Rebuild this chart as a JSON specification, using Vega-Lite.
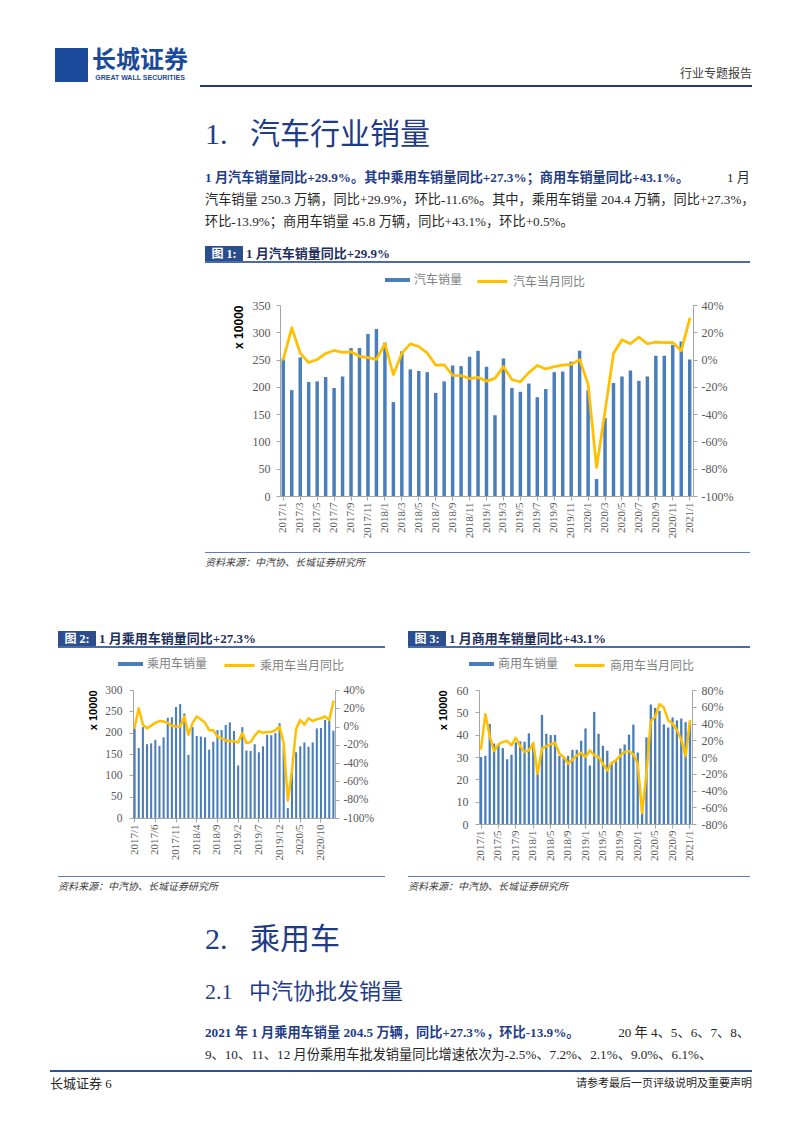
{
"$schema": "https://vega.github.io/schema/vega-lite/v6.json",
"background": "white",
"padding": {"left": 50, "top": 48, "right": 10, "bottom": 10},
"spacing": 0,
"resolve": {"scale": {"fill": "independent", "stroke": "independent"}, "legend": {"fill": "independent", "stroke": "independent"}},
"config": {
 "view": {"stroke": null},
 "axis": {"grid": false, "labelFont": "Liberation Serif", "labelFontSize": 12, "labelColor": "#595959", "domainColor": "#A6A6A6", "tickColor": "#A6A6A6", "tickSize": 4, "titleFont": "Liberation Sans", "titleFontWeight": "bold", "titleColor": "#000000"},
 "legend": {"padding": 0, "title": null, "labelFont": "Noto Sans CJK SC", "labelFontSize": 12, "labelColor": "#7F7F7F", "labelOffset": 4, "direction": "horizontal"}
},
"datasets": {
 "total": [
  {"m":"2017/1","v":252,"y":0.2},{"m":"2017/2","v":194,"y":23.3},{"m":"2017/3","v":254,"y":4.7},{"m":"2017/4","v":209,"y":-2.2},{"m":"2017/5","v":210,"y":0.0},{"m":"2017/6","v":218,"y":4.5},{"m":"2017/7","v":198,"y":6.7},{"m":"2017/8","v":219,"y":5.3},{"m":"2017/9","v":271,"y":5.7},{"m":"2017/10","v":271,"y":2.4},{"m":"2017/11","v":297,"y":1.4},{"m":"2017/12","v":306,"y":0.1},
  {"m":"2018/1","v":281,"y":11.6},{"m":"2018/2","v":172,"y":-11.1},{"m":"2018/3","v":265,"y":4.7},{"m":"2018/4","v":232,"y":11.5},{"m":"2018/5","v":229,"y":9.6},{"m":"2018/6","v":227,"y":4.8},{"m":"2018/7","v":189,"y":-4.0},{"m":"2018/8","v":210,"y":-3.8},{"m":"2018/9","v":239,"y":-11.6},{"m":"2018/10","v":238,"y":-11.7},{"m":"2018/11","v":255,"y":-13.9},{"m":"2018/12","v":266,"y":-13.0},
  {"m":"2019/1","v":237,"y":-15.8},{"m":"2019/2","v":148,"y":-13.8},{"m":"2019/3","v":252,"y":-5.2},{"m":"2019/4","v":198,"y":-14.6},{"m":"2019/5","v":191,"y":-16.4},{"m":"2019/6","v":206,"y":-9.6},{"m":"2019/7","v":181,"y":-4.3},{"m":"2019/8","v":196,"y":-6.9},{"m":"2019/9","v":227,"y":-5.2},{"m":"2019/10","v":228,"y":-4.0},{"m":"2019/11","v":246,"y":-3.6},{"m":"2019/12","v":266,"y":0.0},
  {"m":"2020/1","v":194,"y":-18.0},{"m":"2020/2","v":31,"y":-79.1},{"m":"2020/3","v":143,"y":-38},{"m":"2020/4","v":207,"y":4.4},{"m":"2020/5","v":219,"y":14.5},{"m":"2020/6","v":230,"y":11.6},{"m":"2020/7","v":211,"y":16.4},{"m":"2020/8","v":219,"y":11.6},{"m":"2020/9","v":257,"y":12.8},{"m":"2020/10","v":257,"y":12.5},{"m":"2020/11","v":277,"y":12.6},{"m":"2020/12","v":283,"y":6.4},
  {"m":"2021/1","v":250,"y":29.9}
 ],
 "pv": [
  {"m":"2017/1","v":210,"y":-1},{"m":"2017/2","v":164,"y":20},{"m":"2017/3","v":213,"y":2},{"m":"2017/4","v":173,"y":-2},{"m":"2017/5","v":175,"y":1},{"m":"2017/6","v":183,"y":4},{"m":"2017/7","v":169,"y":6},{"m":"2017/8","v":189,"y":5.5},{"m":"2017/9","v":235,"y":4},{"m":"2017/10","v":236,"y":1},{"m":"2017/11","v":260,"y":0},{"m":"2017/12","v":267,"y":0},
  {"m":"2018/1","v":245,"y":11},{"m":"2018/2","v":148,"y":-9},{"m":"2018/3","v":213,"y":4},{"m":"2018/4","v":192,"y":11},{"m":"2018/5","v":191,"y":8},{"m":"2018/6","v":189,"y":4},{"m":"2018/7","v":160,"y":-4},{"m":"2018/8","v":179,"y":-4},{"m":"2018/9","v":206,"y":-11},{"m":"2018/10","v":206,"y":-13},{"m":"2018/11","v":218,"y":-15},{"m":"2018/12","v":224,"y":-16},
  {"m":"2019/1","v":204,"y":-16},{"m":"2019/2","v":123,"y":-17.5},{"m":"2019/3","v":213,"y":-7},{"m":"2019/4","v":158,"y":-18},{"m":"2019/5","v":157,"y":-17},{"m":"2019/6","v":173,"y":-10},{"m":"2019/7","v":154,"y":-5},{"m":"2019/8","v":168,"y":-7},{"m":"2019/9","v":195,"y":-6},{"m":"2019/10","v":194,"y":-6},{"m":"2019/11","v":199,"y":-4},{"m":"2019/12","v":222,"y":0},
  {"m":"2020/1","v":167,"y":-18},{"m":"2020/2","v":23,"y":-81},{"m":"2020/3","v":105,"y":-48},{"m":"2020/4","v":154,"y":-2.5},{"m":"2020/5","v":168,"y":7.2},{"m":"2020/6","v":177,"y":2.1},{"m":"2020/7","v":167,"y":9.0},{"m":"2020/8","v":177,"y":6.1},{"m":"2020/9","v":210,"y":8.0},{"m":"2020/10","v":211,"y":9.1},{"m":"2020/11","v":230,"y":11.0},{"m":"2020/12","v":230,"y":7.0},
  {"m":"2021/1","v":204.5,"y":27.3}
 ],
 "cv": [
  {"m":"2017/1","v":30,"y":10},{"m":"2017/2","v":30.5,"y":51},{"m":"2017/3","v":44.8,"y":25},{"m":"2017/4","v":36,"y":7},{"m":"2017/5","v":35.5,"y":15},{"m":"2017/6","v":34,"y":18},{"m":"2017/7","v":29,"y":19},{"m":"2017/8","v":31,"y":14},{"m":"2017/9","v":36.5,"y":23},{"m":"2017/10","v":37,"y":13},{"m":"2017/11","v":36.8,"y":6},{"m":"2017/12","v":40.6,"y":8},
  {"m":"2018/1","v":35,"y":17},{"m":"2018/2","v":24,"y":-20},{"m":"2018/3","v":48.8,"y":10},{"m":"2018/4","v":40.4,"y":13},{"m":"2018/5","v":39.8,"y":15},{"m":"2018/6","v":39.9,"y":17},{"m":"2018/7","v":30.5,"y":4},{"m":"2018/8","v":29.5,"y":0},{"m":"2018/9","v":30.5,"y":-8},{"m":"2018/10","v":33.2,"y":-3},{"m":"2018/11","v":33.2,"y":2},{"m":"2018/12","v":37.3,"y":5},
  {"m":"2019/1","v":42.8,"y":0},{"m":"2019/2","v":26.2,"y":8},{"m":"2019/3","v":50.2,"y":2},{"m":"2019/4","v":40.4,"y":0},{"m":"2019/5","v":35,"y":-8},{"m":"2019/6","v":32.8,"y":-16},{"m":"2019/7","v":27.5,"y":-7},{"m":"2019/8","v":28.5,"y":-4},{"m":"2019/9","v":33.8,"y":2},{"m":"2019/10","v":35.6,"y":6},{"m":"2019/11","v":40,"y":7},{"m":"2019/12","v":44.5,"y":3},
  {"m":"2020/1","v":32,"y":-8},{"m":"2020/2","v":8,"y":-67},{"m":"2020/3","v":38.8,"y":-20},{"m":"2020/4","v":53.5,"y":43},{"m":"2020/5","v":52,"y":48},{"m":"2020/6","v":50.6,"y":63},{"m":"2020/7","v":44.6,"y":59},{"m":"2020/8","v":43.2,"y":44},{"m":"2020/9","v":47.7,"y":40},{"m":"2020/10","v":46.4,"y":32},{"m":"2020/11","v":47.2,"y":21},{"m":"2020/12","v":45.6,"y":1},
  {"m":"2021/1","v":45.8,"y":43.1}
 ]
},
"vconcat": [
 {"hconcat": [
  {"width":5,"height":34,"data":{"values":[]},"mark":"rect"},
  {"width":33,"height":34,"data":{"values":[{}]},"mark":{"type":"rect","color":"#1C4A9A"}},
  {"width":104,"height":34,"layer":[
    {"data":{"values":[{"t":"长城证券"}]},"mark":{"type":"text","font":"Noto Sans CJK SC","fontSize":24,"fontWeight":"bold","color":"#1C4A9A","baseline":"middle","dy":-4},"encoding":{"text":{"field":"t"}}},
    {"data":{"values":[{"t":"GREAT WALL SECURITIES"}]},"mark":{"type":"text","font":"Liberation Sans","fontSize":7,"fontWeight":"bold","color":"#1C4A9A","baseline":"middle","dy":13},"encoding":{"text":{"field":"t"}}}
  ]},
  {"width":8,"height":34,"data":{"values":[]},"mark":"rect"},
  {"width":552,"height":34,"data":{"values":[{"t":"行业专题报告"}]},"mark":{"type":"text","align":"right","baseline":"middle","font":"Noto Sans CJK SC","fontSize":12,"color":"#404040","dy":9},"encoding":{"text":{"field":"t"},"x":{"datum":1,"type":"quantitative","scale":{"domain":[0,1]},"axis":null}}}
 ], "spacing": 0, "bounds": "flush"},
 {"width":1,"height":3,"data":{"values":[]},"mark":"rect"},
 {"hconcat": [
  {"width":150,"height":2,"data":{"values":[]},"mark":"rect"},
  {"width":552,"height":2,"data":{"values":[{}]},"mark":{"type":"rect","color":"#1F3A7A"}}
 ], "spacing": 0, "bounds": "flush"},
 {"width":1,"height":33,"data":{"values":[]},"mark":"rect"},
 {"hconcat": [
  {"width":155,"height":30,"data":{"values":[]},"mark":"rect"},
  {"width":545,"height":30,"data":{"values":[{"t":"1.\u00a0\u00a0\u00a0汽车行业销量"}]},"mark":{"type":"text","align":"left","baseline":"middle","font":"Liberation Serif, Noto Sans CJK SC","fontSize":30,"color":"#1F3C88"},"encoding":{"text":{"field":"t"},"x":{"datum":0,"type":"quantitative","scale":{"domain":[0,1]},"axis":null}}}
 ], "spacing": 0, "bounds": "flush"},
 {"width":1,"height":17,"data":{"values":[]},"mark":"rect"},
 {"hconcat": [
  {"width":155,"height":66,"data":{"values":[]},"mark":"rect"},
  {"width":545,"height":66,"layer":[
    {"data":{"values":[{"line":"1","t":"1 月汽车销量同比+29.9%。其中乘用车销量同比+27.3%；商用车销量同比+43.1%。"}]},"mark":{"type":"text","align":"left","baseline":"middle","font":"Liberation Serif, Noto Sans CJK SC","fontSize":13.2,"fontWeight":"bold","color":"#1F3C88"},"encoding":{"text":{"field":"t"},"x":{"datum":0,"type":"quantitative","scale":{"domain":[0,1]},"axis":null},"y":{"field":"line","type":"ordinal","scale":{"domain":["1","2","3"]},"axis":null}}},
    {"data":{"values":[{"line":"1","t":"1 月"}]},"mark":{"type":"text","align":"right","baseline":"middle","font":"Liberation Serif, Noto Sans CJK SC","fontSize":13.2,"color":"#262626"},"encoding":{"text":{"field":"t"},"x":{"datum":1,"type":"quantitative","scale":{"domain":[0,1]},"axis":null},"y":{"field":"line","type":"ordinal","scale":{"domain":["1","2","3"]},"axis":null}}},
    {"data":{"values":[{"line":"2","t":"汽车销量 250.3 万辆，同比+29.9%，环比-11.6%。其中，乘用车销量 204.4 万辆，同比+27.3%，"},{"line":"3","t":"环比-13.9%；商用车销量 45.8 万辆，同比+43.1%，环比+0.5%。"}]},"mark":{"type":"text","align":"left","baseline":"middle","font":"Liberation Serif, Noto Sans CJK SC","fontSize":13.2,"color":"#262626"},"encoding":{"text":{"field":"t"},"x":{"datum":0,"type":"quantitative","scale":{"domain":[0,1]},"axis":null},"y":{"field":"line","type":"ordinal","scale":{"domain":["1","2","3"]},"axis":null}}}
  ]}
 ], "spacing": 0, "bounds": "flush"},
 {"width":1,"height":13,"data":{"values":[]},"mark":"rect"},
 {"hconcat": [
  {"width":155,"height":15,"data":{"values":[]},"mark":"rect"},
  {"width":38,"height":15,"layer":[
    {"data":{"values":[{}]},"mark":{"type":"rect","color":"#2B4E8E"}},
    {"data":{"values":[{"t":"图 1:"}]},"mark":{"type":"text","font":"Liberation Serif, Noto Sans CJK SC","fontSize":12,"fontWeight":"bold","color":"#FFFFFF","baseline":"middle","align":"center"},"encoding":{"text":{"field":"t"}}},
    {"data":{"values":[{"t":"1 月汽车销量同比+29.9%"}]},"mark":{"type":"text","font":"Liberation Serif, Noto Sans CJK SC","fontSize":13,"fontWeight":"bold","color":"#1F2F5C","baseline":"middle","align":"left","dx":3},"encoding":{"text":{"field":"t"},"x":{"datum":1,"type":"quantitative","scale":{"domain":[0,1]},"axis":null}}}
  ]}
 ], "spacing": 0, "bounds": "flush"},
 {"hconcat": [
  {"width":155,"height":2,"data":{"values":[]},"mark":"rect"},
  {"width":545,"height":2,"data":{"values":[{}]},"mark":{"type":"rect","color":"#4A6AAE"}}
 ], "spacing": 0, "bounds": "flush"},
 {"width":1,"height":2,"data":{"values":[]},"mark":"rect"},
 {"hconcat": [
  {"width":230,"height":191,"data":{"values":[]},"mark":"rect"},
  {"width":413,"height":191,"data":{"name":"total"},
   "layer":[
    {"mark":{"type":"bar"},
     "encoding":{
      "x":{"field":"m","type":"ordinal","sort":null,"scale":{"paddingInner":0.59,"paddingOuter":0.185},
           "axis":{"title":null,"values":["2017/1","2017/3","2017/5","2017/7","2017/9","2017/11","2018/1","2018/3","2018/5","2018/7","2018/9","2018/11","2019/1","2019/3","2019/5","2019/7","2019/9","2019/11","2020/1","2020/3","2020/5","2020/7","2020/9","2020/11","2021/1"],"labelAngle":-90,"labelFontSize":11,"labelPadding":2,"labelOverlap":false}},
      "y":{"field":"v","type":"quantitative","scale":{"domain":[0,350],"nice":false},
           "axis":{"values":[0,50,100,150,200,250,300,350],"title":"x 10000","titleAnchor":"end","titleFontSize":12,"titlePadding":7,"labelPadding":6}},
      "fill":{"datum":"汽车销量","scale":{"range":["#4A7EBB"]},"legend":{"orient":"none","legendX":105,"legendY":-37.5,"symbolType":"M-1,-0.16H1V0.16H-1Z","symbolSize":625,"symbolStrokeWidth":0}}
     }},
    {"mark":{"type":"line","strokeWidth":2.75,"strokeJoin":"round","strokeCap":"round"},
     "encoding":{
      "x":{"field":"m","type":"ordinal","sort":null},
      "y":{"field":"y","type":"quantitative","scale":{"domain":[-100,40],"nice":false},
           "axis":{"orient":"right","values":[-100,-80,-60,-40,-20,0,20,40],"labelExpr":"datum.value + '%'","title":null,"labelPadding":4}},
      "stroke":{"datum":"汽车当月同比","scale":{"range":["#FFC000"]},"legend":{"orient":"none","legendX":196,"legendY":-40,"symbolType":"stroke","symbolSize":900,"symbolStrokeWidth":3}}
     }}
   ],
   "resolve":{"scale":{"y":"independent"}}
  }
 ], "spacing": 0, "bounds": "flush", "resolve": {"scale": {"fill": "independent", "stroke": "independent"}, "legend": {"fill": "independent", "stroke": "independent"}}},
 {"width":1,"height":14,"data":{"values":[]},"mark":"rect"},
 {"hconcat": [
  {"width":155,"height":1,"data":{"values":[]},"mark":"rect"},
  {"width":545,"height":1,"data":{"values":[{}]},"mark":{"type":"rect","color":"#5B7DB8"}}
 ], "spacing": 0, "bounds": "flush"},
 {"hconcat": [
  {"width":155,"height":20,"data":{"values":[]},"mark":"rect"},
  {"width":545,"height":20,"data":{"values":[{"t":"资料来源：中汽协、长城证券研究所"}]},"mark":{"type":"text","align":"left","baseline":"middle","font":"Noto Sans CJK SC","fontSize":10,"fontStyle":"italic","color":"#404040"},"encoding":{"text":{"field":"t"},"x":{"datum":0,"type":"quantitative","scale":{"domain":[0,1]},"axis":null}}}
 ], "spacing": 0, "bounds": "flush"},
 {"width":1,"height":58,"data":{"values":[]},"mark":"rect"},
 {"hconcat": [
  {"width":8,"height":15,"data":{"values":[]},"mark":"rect"},
  {"width":38,"height":15,"layer":[
    {"data":{"values":[{}]},"mark":{"type":"rect","color":"#2B4E8E"}},
    {"data":{"values":[{"t":"图 2:"}]},"mark":{"type":"text","font":"Liberation Serif, Noto Sans CJK SC","fontSize":12,"fontWeight":"bold","color":"#FFFFFF","baseline":"middle","align":"center"},"encoding":{"text":{"field":"t"}}},
    {"data":{"values":[{"t":"1 月乘用车销量同比+27.3%"}]},"mark":{"type":"text","font":"Liberation Serif, Noto Sans CJK SC","fontSize":13,"fontWeight":"bold","color":"#1F2F5C","baseline":"middle","align":"left","dx":3},"encoding":{"text":{"field":"t"},"x":{"datum":1,"type":"quantitative","scale":{"domain":[0,1]},"axis":null}}}
  ]},
  {"width":312,"height":15,"data":{"values":[]},"mark":"rect"},
  {"width":38,"height":15,"layer":[
    {"data":{"values":[{}]},"mark":{"type":"rect","color":"#2B4E8E"}},
    {"data":{"values":[{"t":"图 3:"}]},"mark":{"type":"text","font":"Liberation Serif, Noto Sans CJK SC","fontSize":12,"fontWeight":"bold","color":"#FFFFFF","baseline":"middle","align":"center"},"encoding":{"text":{"field":"t"}}},
    {"data":{"values":[{"t":"1 月商用车销量同比+43.1%"}]},"mark":{"type":"text","font":"Liberation Serif, Noto Sans CJK SC","fontSize":13,"fontWeight":"bold","color":"#1F2F5C","baseline":"middle","align":"left","dx":3},"encoding":{"text":{"field":"t"},"x":{"datum":1,"type":"quantitative","scale":{"domain":[0,1]},"axis":null}}}
  ]}
 ], "spacing": 0, "bounds": "flush"},
 {"hconcat": [
  {"width":8,"height":2,"data":{"values":[]},"mark":"rect"},
  {"width":327,"height":2,"data":{"values":[{}]},"mark":{"type":"rect","color":"#4A6AAE"}},
  {"width":23,"height":2,"data":{"values":[]},"mark":"rect"},
  {"width":342,"height":2,"data":{"values":[{}]},"mark":{"type":"rect","color":"#4A6AAE"}}
 ], "spacing": 0, "bounds": "flush"},
 {"width":1,"height":1,"data":{"values":[]},"mark":"rect"},
 {"hconcat": [
  {"width":83,"height":134,"data":{"values":[]},"mark":"rect"},
  {"width":202,"height":128,"data":{"name":"pv"},
   "layer":[
    {"mark":{"type":"bar"},
     "encoding":{
      "x":{"field":"m","type":"ordinal","sort":null,"scale":{"paddingInner":0.5,"paddingOuter":0.14},
           "axis":{"title":null,"values":["2017/1","2017/6","2017/11","2018/4","2018/9","2019/2","2019/7","2019/12","2020/5","2020/10"],"labelAngle":-90,"labelFontSize":11,"labelPadding":2,"labelOverlap":false}},
      "y":{"field":"v","type":"quantitative","scale":{"domain":[0,300],"nice":false},
           "axis":{"values":[0,50,100,150,200,250,300],"title":"x 10000","titleAnchor":"end","titleFontSize":11,"titlePadding":6,"labelPadding":7,"labelFontSize":11.5}},
      "fill":{"datum":"乘用车销量","scale":{"range":["#4A7EBB"]},"legend":{"orient":"none","legendX":-15,"legendY":-38.5,"symbolType":"M-1,-0.16H1V0.16H-1Z","symbolSize":625,"symbolStrokeWidth":0}}
     }},
    {"mark":{"type":"line","strokeWidth":2.5,"strokeJoin":"round","strokeCap":"round"},
     "encoding":{
      "x":{"field":"m","type":"ordinal","sort":null},
      "y":{"field":"y","type":"quantitative","scale":{"domain":[-100,40],"nice":false},
           "axis":{"orient":"right","values":[-100,-80,-60,-40,-20,0,20,40],"labelExpr":"datum.value + '%'","title":null,"labelPadding":4,"labelFontSize":11.5}},
      "stroke":{"datum":"乘用车当月同比","scale":{"range":["#FFC000"]},"legend":{"orient":"none","legendX":90,"legendY":-41,"symbolType":"stroke","symbolSize":900,"symbolStrokeWidth":3}}
     }}
   ],
   "resolve":{"scale":{"y":"independent"}}
  },
  {"width":144,"height":134,"data":{"values":[]},"mark":"rect"},
  {"width":213,"height":134,"data":{"name":"cv"},
   "layer":[
    {"mark":{"type":"bar"},
     "encoding":{
      "x":{"field":"m","type":"ordinal","sort":null,"scale":{"paddingInner":0.47,"paddingOuter":0.2},
           "axis":{"title":null,"values":["2017/1","2017/5","2017/9","2018/1","2018/5","2018/9","2019/1","2019/5","2019/9","2020/1","2020/5","2020/9","2021/1"],"labelAngle":-90,"labelFontSize":11,"labelPadding":2,"labelOverlap":false}},
      "y":{"field":"v","type":"quantitative","scale":{"domain":[0,60],"nice":false},
           "axis":{"values":[0,10,20,30,40,50,60],"title":"x 10000","titleAnchor":"end","titleFontSize":11,"titlePadding":8,"labelPadding":7}},
      "fill":{"datum":"商用车销量","scale":{"range":["#4A7EBB"]},"legend":{"orient":"none","legendX":-10,"legendY":-38.5,"symbolType":"M-1,-0.16H1V0.16H-1Z","symbolSize":625,"symbolStrokeWidth":0}}
     }},
    {"mark":{"type":"line","strokeWidth":2.5,"strokeJoin":"round","strokeCap":"round"},
     "encoding":{
      "x":{"field":"m","type":"ordinal","sort":null},
      "y":{"field":"y","type":"quantitative","scale":{"domain":[-80,80],"nice":false},
           "axis":{"orient":"right","values":[-80,-60,-40,-20,0,20,40,60,80],"labelExpr":"datum.value + '%'","title":null,"labelPadding":5}},
      "stroke":{"datum":"商用车当月同比","scale":{"range":["#FFC000"]},"legend":{"orient":"none","legendX":94,"legendY":-41,"symbolType":"stroke","symbolSize":900,"symbolStrokeWidth":3}}
     }}
   ],
   "resolve":{"scale":{"y":"independent"}}
  }
 ], "spacing": 0, "bounds": "flush", "resolve": {"scale": {"fill": "independent", "stroke": "independent"}, "legend": {"fill": "independent", "stroke": "independent"}}},
 {"width":1,"height":15,"data":{"values":[]},"mark":"rect"},
 {"hconcat": [
  {"width":8,"height":1,"data":{"values":[]},"mark":"rect"},
  {"width":327,"height":1,"data":{"values":[{}]},"mark":{"type":"rect","color":"#5B7DB8"}},
  {"width":23,"height":1,"data":{"values":[]},"mark":"rect"},
  {"width":342,"height":1,"data":{"values":[{}]},"mark":{"type":"rect","color":"#5B7DB8"}}
 ], "spacing": 0, "bounds": "flush"},
 {"hconcat": [
  {"width":8,"height":20,"data":{"values":[]},"mark":"rect"},
  {"width":327,"height":20,"data":{"values":[{"t":"资料来源：中汽协、长城证券研究所"}]},"mark":{"type":"text","align":"left","baseline":"middle","font":"Noto Sans CJK SC","fontSize":10,"fontStyle":"italic","color":"#404040"},"encoding":{"text":{"field":"t"},"x":{"datum":0,"type":"quantitative","scale":{"domain":[0,1]},"axis":null}}},
  {"width":23,"height":20,"data":{"values":[]},"mark":"rect"},
  {"width":342,"height":20,"data":{"values":[{"t":"资料来源：中汽协、长城证券研究所"}]},"mark":{"type":"text","align":"left","baseline":"middle","font":"Noto Sans CJK SC","fontSize":10,"fontStyle":"italic","color":"#404040"},"encoding":{"text":{"field":"t"},"x":{"datum":0,"type":"quantitative","scale":{"domain":[0,1]},"axis":null}}}
 ], "spacing": 0, "bounds": "flush"},
 {"width":1,"height":28,"data":{"values":[]},"mark":"rect"},
 {"hconcat": [
  {"width":155,"height":30,"data":{"values":[]},"mark":"rect"},
  {"width":545,"height":30,"data":{"values":[{"t":"2.\u00a0\u00a0\u00a0乘用车"}]},"mark":{"type":"text","align":"left","baseline":"middle","font":"Liberation Serif, Noto Sans CJK SC","fontSize":30,"color":"#1F3C88"},"encoding":{"text":{"field":"t"},"x":{"datum":0,"type":"quantitative","scale":{"domain":[0,1]},"axis":null}}}
 ], "spacing": 0, "bounds": "flush"},
 {"width":1,"height":25,"data":{"values":[]},"mark":"rect"},
 {"hconcat": [
  {"width":155,"height":24,"data":{"values":[]},"mark":"rect"},
  {"width":545,"height":24,"data":{"values":[{"t":"2.1\u00a0\u00a0\u00a0中汽协批发销量"}]},"mark":{"type":"text","align":"left","baseline":"middle","font":"Liberation Serif, Noto Sans CJK SC","fontSize":22,"color":"#1F3C88"},"encoding":{"text":{"field":"t"},"x":{"datum":0,"type":"quantitative","scale":{"domain":[0,1]},"axis":null}}}
 ], "spacing": 0, "bounds": "flush"},
 {"width":1,"height":18,"data":{"values":[]},"mark":"rect"},
 {"hconcat": [
  {"width":155,"height":44,"data":{"values":[]},"mark":"rect"},
  {"width":545,"height":44,"layer":[
    {"data":{"values":[{"line":"1","t":"2021 年 1 月乘用车销量 204.5 万辆，同比+27.3%，环比-13.9%。"}]},"mark":{"type":"text","align":"left","baseline":"middle","font":"Liberation Serif, Noto Sans CJK SC","fontSize":13.2,"fontWeight":"bold","color":"#1F3C88"},"encoding":{"text":{"field":"t"},"x":{"datum":0,"type":"quantitative","scale":{"domain":[0,1]},"axis":null},"y":{"field":"line","type":"ordinal","scale":{"domain":["1","2"]},"axis":null}}},
    {"data":{"values":[{"line":"1","t":"20 年 4、5、6、7、8、"}]},"mark":{"type":"text","align":"right","baseline":"middle","font":"Liberation Serif, Noto Sans CJK SC","fontSize":13.2,"color":"#262626"},"encoding":{"text":{"field":"t"},"x":{"datum":1,"type":"quantitative","scale":{"domain":[0,1]},"axis":null},"y":{"field":"line","type":"ordinal","scale":{"domain":["1","2"]},"axis":null}}},
    {"data":{"values":[{"line":"2","t":"9、10、11、12 月份乘用车批发销量同比增速依次为-2.5%、7.2%、2.1%、9.0%、6.1%、"}]},"mark":{"type":"text","align":"left","baseline":"middle","font":"Liberation Serif, Noto Sans CJK SC","fontSize":13.2,"color":"#262626"},"encoding":{"text":{"field":"t"},"x":{"datum":0,"type":"quantitative","scale":{"domain":[0,1]},"axis":null},"y":{"field":"line","type":"ordinal","scale":{"domain":["1","2"]},"axis":null}}}
  ]}
 ], "spacing": 0, "bounds": "flush"},
 {"width":1,"height":4,"data":{"values":[]},"mark":"rect"},
 {"width":702,"height":2,"data":{"values":[{}]},"mark":{"type":"rect","color":"#2F4F9F"}},
 {"width":702,"height":24,"layer":[
   {"data":{"values":[{"t":"长城证券 6"}]},"mark":{"type":"text","align":"left","baseline":"middle","font":"Liberation Serif, Noto Sans CJK SC","fontSize":13,"color":"#262626"},"encoding":{"text":{"field":"t"},"x":{"datum":0,"type":"quantitative","scale":{"domain":[0,1]},"axis":null}}},
   {"data":{"values":[{"t":"请参考最后一页评级说明及重要声明"}]},"mark":{"type":"text","align":"right","baseline":"middle","font":"Noto Sans CJK SC","fontSize":11,"color":"#262626"},"encoding":{"text":{"field":"t"},"x":{"datum":1,"type":"quantitative","scale":{"domain":[0,1]},"axis":null}}}
 ]}
]
}
